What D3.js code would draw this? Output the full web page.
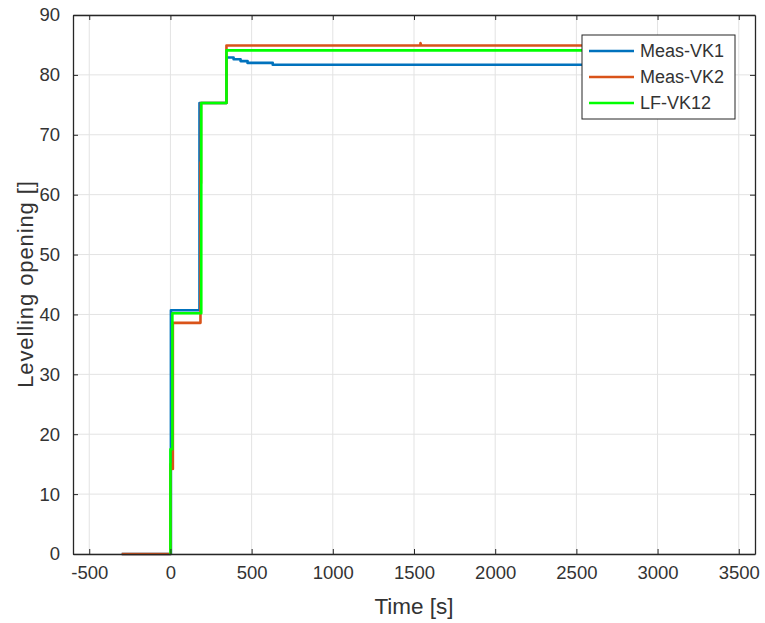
<!DOCTYPE html>
<html>
<head>
<meta charset="utf-8">
<script src="https://cdn.jsdelivr.net/npm/d3@7"></script>
<style>
  body { margin: 0; background: #fff; }
  svg { font-family: "Liberation Sans", Arial, sans-serif; }
</style>
</head>
<body>
<svg width="765" height="623"></svg>
<script>
// Series data: [time s, opening]
const measVK1 = [
  [-300, 0], [3, 0], [3, 40.7], [179, 40.7], [179, 75.3], [345, 75.3],
  [345, 82.9], [389, 82.9], [389, 82.6], [432, 82.6], [432, 82.3],
  [475, 82.3], [475, 82.0], [630, 82.0], [630, 81.7], [3000, 81.7]
];
const measVK2 = [
  [-300, 0], [0, 0], [0, 15], [15, 14.2], [15, 38.6], [185, 38.6],
  [185, 65.4], [188, 61.9], [188, 75.3], [345, 75.3], [345, 84.9],
  [1540, 84.9], [1540, 85.3], [1545, 84.9], [3000, 84.9]
];
const lfVK12 = [
  [0, 0], [0, 17.5], [12, 17.5], [12, 40.2], [190, 40.2], [190, 75.3],
  [345, 75.3], [345, 84.1], [3000, 84.1]
];

const seriesNames = ['Meas-VK1', 'Meas-VK2', 'LF-VK12'];
const seriesColors = ['#0072BD', '#D95319', '#00FF00'];
const xTicks = [-500, 0, 500, 1000, 1500, 2000, 2500, 3000, 3500];
const yTicks = [0, 10, 20, 30, 40, 50, 60, 70, 80, 90];

const svg = d3.select('svg');
const margin = { left: 73, right: 10, top: 15, bottom: 69 };
const width = +svg.attr('width');
const height = +svg.attr('height');

const x = d3.scaleLinear().domain([-600, 3600]).range([margin.left, width - margin.right]);
const y = d3.scaleLinear().domain([0, 90]).range([height - margin.bottom, margin.top]);

const axisColor = '#262626';
const textColor = '#333';

// Grid lines
const grid = svg.append('g');
grid.selectAll('.gx').data(xTicks).join('line')
  .attr('x1', d => x(d)).attr('x2', d => x(d))
  .attr('y1', y(90)).attr('y2', y(0))
  .attr('stroke', '#e3e3e3').attr('stroke-width', 1);
grid.selectAll('.gy').data(yTicks).join('line')
  .attr('x1', x(-600)).attr('x2', x(3600))
  .attr('y1', d => y(d)).attr('y2', d => y(d))
  .attr('stroke', '#e3e3e3').attr('stroke-width', 1);

// Data lines
const line = d3.line().x(d => x(d[0])).y(d => y(d[1]));
const plot = svg.append('g');
[measVK1, measVK2, lfVK12].forEach((s, i) => {
  plot.append('path')
    .datum(s)
    .attr('d', line)
    .attr('fill', 'none')
    .attr('stroke', seriesColors[i])
    .attr('stroke-width', 2.6)
    .attr('stroke-linejoin', 'round');
});

// Axes (ticks inward, mirrored on the box)
const plainNum = d => String(d); // keep ASCII hyphen, no thousands separator
const axisStyle = g => {
  g.select('.domain').attr('stroke', axisColor).attr('stroke-width', 1.3);
  g.selectAll('.tick line').attr('stroke', axisColor).attr('stroke-width', 1);
  g.selectAll('.tick text').attr('fill', textColor).attr('font-size', 18.5);
};

svg.append('g')
  .attr('transform', `translate(0,${y(0)})`)
  .call(d3.axisBottom(x).tickValues(xTicks).tickFormat(plainNum).tickSizeInner(-5).tickSizeOuter(0).tickPadding(12))
  .call(axisStyle);
svg.append('g')
  .attr('transform', `translate(0,${y(90)})`)
  .call(d3.axisTop(x).tickValues(xTicks).tickSizeInner(-5).tickSizeOuter(0).tickFormat(''))
  .call(axisStyle);
svg.append('g')
  .attr('transform', `translate(${x(-600)},0)`)
  .call(d3.axisLeft(y).tickValues(yTicks).tickFormat(plainNum).tickSizeInner(-5).tickSizeOuter(0).tickPadding(13))
  .call(axisStyle);
svg.append('g')
  .attr('transform', `translate(${x(3600)},0)`)
  .call(d3.axisRight(y).tickValues(yTicks).tickSizeInner(-5).tickSizeOuter(0).tickFormat(''))
  .call(axisStyle);

// Axis labels
svg.append('text')
  .attr('x', (x(-600) + x(3600)) / 2)
  .attr('y', 614)
  .attr('text-anchor', 'middle')
  .attr('font-size', 22.5)
  .attr('fill', textColor)
  .text('Time [s]');
svg.append('text')
  .attr('transform', `translate(33,284) rotate(-90)`)
  .attr('text-anchor', 'middle')
  .attr('font-size', 22)
  .attr('letter-spacing', 0.9)
  .attr('fill', textColor)
  .text('Levelling opening []');

// Legend
const legend = svg.append('g').attr('transform', 'translate(582,35)');
legend.append('rect')
  .attr('width', 153).attr('height', 84)
  .attr('fill', '#fff').attr('stroke', axisColor).attr('stroke-width', 1);
seriesNames.forEach((name, i) => {
  const ly = 16 + i * 26;
  legend.append('line')
    .attr('x1', 7).attr('x2', 52).attr('y1', ly).attr('y2', ly)
    .attr('stroke', seriesColors[i]).attr('stroke-width', 2.6);
  legend.append('text')
    .attr('x', 58).attr('y', ly).attr('dy', '0.35em')
    .attr('font-size', 18).attr('fill', textColor)
    .text(name);
});
</script>
</body>
</html>
